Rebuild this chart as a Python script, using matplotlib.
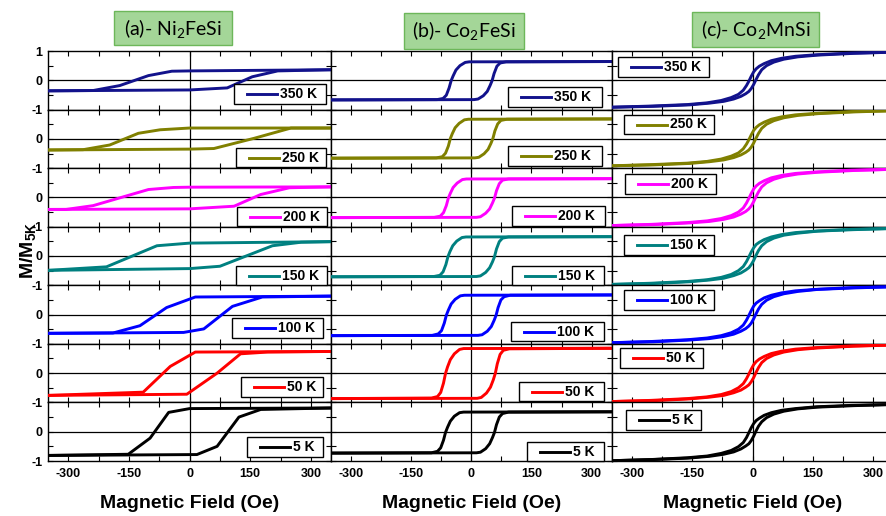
import matplotlib
matplotlib.use('Agg')
import matplotlib.pyplot as plt
from matplotlib.patches import Rectangle
from matplotlib.lines import Line2D

plt.rcParams['font.family'] = ['Liberation Sans', 'DejaVu Sans']
plt.rcParams['mathtext.default'] = 'regular'
plt.rcParams['axes.unicode_minus'] = False

# ---------------- data ----------------
temps = ['350 K', '250 K', '200 K', '150 K', '100 K', '50 K', '5 K']
temp_colors = ['#12128c', '#808000', '#ff00ff', '#008080', '#0000ff', '#ff0000', '#000000']
panel_titles = ['(a)- Ni$_2$FeSi', '(b)- Co$_2$FeSi', '(c)- Co$_2$MnSi']
x_tick_values = [-300, -150, 0, 150, 300]
x_tick_labels = ['-300', '-150', '0', '150', '300']

# (a) Ni2FeSi : field-decreasing and field-increasing branches
ni_desc_H = [
    [350, 0, -44, -102, -173, -239, -350],
    [350, 0, -73, -127, -198, -264, -350],
    [350, 0, -40, -102, -239, -306, -350],
    [350, 0, -81, -206, -350],
    [350, 14, -57, -123, -190, -350],
    [350, 14, -48, -115, -350],
    [350, 0, -52, -98, -152, -350],
]
ni_desc_M = [
    [0.36, 0.32, 0.31, 0.16, -0.18, -0.35, -0.36],
    [0.37, 0.37, 0.31, 0.19, -0.21, -0.37, -0.38],
    [0.36, 0.35, 0.34, 0.27, -0.28, -0.41, -0.41],
    [0.49, 0.44, 0.35, -0.37, -0.49],
    [0.63, 0.60, 0.24, -0.38, -0.63, -0.64],
    [0.74, 0.72, 0.23, -0.65, -0.76],
    [0.81, 0.79, 0.66, -0.22, -0.77, -0.81],
]
ni_asc_H = [
    [-350, 0, 93, 155, 218, 350],
    [-350, 0, 60, 160, 251, 350],
    [-350, 0, 110, 176, 247, 350],
    [-350, 0, 75, 205, 276, 350],
    [-350, -15, 35, 106, 180, 350],
    [-350, -7, 68, 126, 193, 350],
    [-350, 18, 68, 122, 176, 350],
]
ni_asc_M = [
    [-0.36, -0.33, -0.26, 0.12, 0.32, 0.36],
    [-0.38, -0.35, -0.33, 0.02, 0.37, 0.37],
    [-0.41, -0.39, -0.30, 0.10, 0.33, 0.36],
    [-0.49, -0.43, -0.35, 0.35, 0.47, 0.49],
    [-0.64, -0.61, -0.49, 0.28, 0.60, 0.63],
    [-0.76, -0.72, 0.00, 0.66, 0.72, 0.74],
    [-0.81, -0.78, -0.50, 0.50, 0.76, 0.81],
]

# (b) Co2FeSi
cofe_desc_H = [
    [350, -5, -15, -28, -38, -45, -50, -55, -62, -70, -85, -350],
    [350, -7, -17, -30, -40, -47, -52, -57, -64, -72, -87, -350],
    [350, -12, -22, -35, -45, -52, -57, -62, -69, -77, -92, -350],
    [350, -13, -23, -36, -46, -53, -58, -63, -70, -78, -93, -350],
    [350, -17, -27, -40, -50, -57, -62, -67, -74, -82, -97, -350],
    [350, -19, -29, -42, -52, -59, -64, -69, -76, -84, -99, -350],
    [350, -19, -29, -42, -52, -59, -64, -69, -76, -84, -99, -350],
]
cofe_desc_M = [
    [0.64, 0.63, 0.61, 0.50, 0.35, 0.15, -0.015, -0.26, -0.51, -0.62, -0.66, -0.67],
    [0.68, 0.67, 0.65, 0.53, 0.38, 0.18, 0.01, -0.25, -0.49, -0.61, -0.65, -0.66],
    [0.64, 0.63, 0.61, 0.49, 0.34, 0.14, -0.025, -0.28, -0.52, -0.64, -0.68, -0.69],
    [0.66, 0.65, 0.63, 0.51, 0.35, 0.15, -0.025, -0.29, -0.54, -0.66, -0.70, -0.71],
    [0.67, 0.66, 0.64, 0.52, 0.36, 0.15, -0.025, -0.29, -0.55, -0.66, -0.71, -0.72],
    [0.85, 0.84, 0.81, 0.66, 0.46, 0.21, -0.01, -0.34, -0.66, -0.80, -0.85, -0.87],
    [0.68, 0.67, 0.65, 0.53, 0.36, 0.15, -0.025, -0.29, -0.55, -0.67, -0.72, -0.73],
]
cofe_asc_H = [
    [-350, 7, 17, 30, 40, 47, 52, 57, 64, 72, 87, 350],
    [-350, 9, 19, 32, 42, 49, 54, 59, 66, 74, 89, 350],
    [-350, 13, 23, 36, 46, 53, 58, 63, 70, 78, 93, 350],
    [-350, 13, 23, 36, 46, 53, 58, 63, 70, 78, 93, 350],
    [-350, 17, 27, 40, 50, 57, 62, 67, 74, 82, 97, 350],
    [-350, 15, 25, 38, 48, 55, 60, 65, 72, 80, 95, 350],
    [-350, 13, 23, 36, 46, 53, 58, 63, 70, 78, 93, 350],
]
cofe_asc_M = [
    [-0.67, -0.66, -0.64, -0.53, -0.38, -0.18, -0.015, 0.23, 0.48, 0.59, 0.63, 0.64],
    [-0.66, -0.65, -0.63, -0.51, -0.36, -0.16, 0.01, 0.27, 0.51, 0.63, 0.67, 0.68],
    [-0.69, -0.68, -0.66, -0.54, -0.39, -0.19, -0.025, 0.23, 0.47, 0.59, 0.63, 0.64],
    [-0.71, -0.70, -0.68, -0.56, -0.40, -0.20, -0.025, 0.24, 0.49, 0.61, 0.65, 0.66],
    [-0.72, -0.71, -0.69, -0.57, -0.41, -0.20, -0.025, 0.24, 0.50, 0.61, 0.66, 0.67],
    [-0.87, -0.86, -0.83, -0.68, -0.48, -0.23, -0.01, 0.32, 0.64, 0.78, 0.83, 0.85],
    [-0.73, -0.72, -0.70, -0.58, -0.41, -0.20, -0.025, 0.24, 0.50, 0.62, 0.67, 0.68],
]

# (c) Co2MnSi : field grids of the two branches
comn_desc_H = [-350, -253, -163, -113, -78, -53, -35, -23, -15, -9, -3,
               3, 9, 17, 29, 47, 72, 107, 157, 247, 350]
comn_asc_H = [-350, -247, -157, -107, -72, -47, -29, -17, -9, -3, 3,
              9, 15, 23, 35, 53, 78, 113, 163, 253, 350]
comn_desc_M = [
    [-.92, -.88, -.83, -.77, -.69, -.59, -.48, -.34, -.18, -.03, .14, .29, .39, .48, .57, .67, .75, .82, .87, .93, .96],
    [-.92, -.88, -.83, -.77, -.69, -.59, -.48, -.34, -.18, -.03, .14, .29, .39, .48, .57, .67, .75, .82, .87, .93, .96],
    [-.96, -.92, -.86, -.80, -.72, -.62, -.50, -.36, -.19, -.03, .14, .29, .39, .48, .57, .67, .75, .82, .87, .93, .96],
    [-.97, -.93, -.87, -.81, -.73, -.63, -.50, -.36, -.19, -.03, .14, .28, .39, .47, .56, .65, .73, .80, .85, .91, .94],
    [-.96, -.92, -.86, -.80, -.72, -.62, -.50, -.36, -.19, -.03, .14, .29, .39, .47, .57, .66, .74, .81, .86, .92, .95],
    [-.97, -.93, -.87, -.81, -.73, -.63, -.50, -.36, -.19, -.03, .14, .29, .39, .48, .57, .67, .75, .82, .87, .93, .96],
    [-.99, -.95, -.89, -.83, -.74, -.64, -.51, -.37, -.20, -.03, .14, .28, .38, .46, .56, .65, .73, .79, .85, .90, .93],
]
comn_asc_M = [
    [-.92, -.89, -.84, -.78, -.72, -.64, -.55, -.46, -.38, -.28, -.14, .03, .19, .36, .50, .62, .72, .80, .86, .92, .96],
    [-.92, -.89, -.84, -.78, -.72, -.64, -.55, -.46, -.38, -.28, -.14, .03, .19, .36, .50, .62, .72, .80, .86, .92, .96],
    [-.96, -.93, -.87, -.82, -.75, -.67, -.57, -.48, -.39, -.29, -.14, .03, .19, .36, .50, .62, .72, .80, .86, .92, .96],
    [-.97, -.94, -.88, -.82, -.76, -.67, -.58, -.48, -.40, -.29, -.15, .03, .19, .35, .49, .61, .71, .78, .85, .90, .94],
    [-.96, -.93, -.87, -.82, -.75, -.67, -.57, -.48, -.39, -.29, -.14, .03, .19, .35, .49, .61, .71, .79, .86, .91, .95],
    [-.97, -.94, -.88, -.82, -.76, -.67, -.58, -.48, -.40, -.29, -.15, .03, .19, .36, .50, .62, .72, .80, .86, .92, .96],
    [-.99, -.95, -.90, -.84, -.77, -.69, -.59, -.49, -.41, -.30, -.15, .03, .19, .34, .48, .60, .70, .78, .84, .89, .93],
]

# ---------------- layout (pixels) ----------------
W, H = 887, 516
col_left = [48.3, 330.7, 612.0]
col_width = [282.7, 281.0, 281.0]
rows_top, rows_bottom = 51.0, 461.0
row_h = (rows_bottom - rows_top) / 7

# legend boxes (left, top, right, bottom) in pixels
legend_boxes = [
    [(234, 84, 326, 104), (236, 148, 326, 167), (237, 207, 327, 226), (236, 266, 327, 285),
     (232, 318, 323, 338), (241, 377, 323, 397), (247, 437, 323, 457)],
    [(508, 87, 602, 107), (508, 146, 602, 166), (512, 206, 605, 226), (512, 266, 604, 285),
     (511, 322, 604, 341), (519, 382, 604, 401), (527, 442, 604, 461)],
    [(618, 57, 709, 77), (624, 115, 714, 134), (625, 174, 716, 194), (624, 235, 714, 255),
     (624, 290, 714, 310), (620, 348, 703, 368), (626, 410, 701, 430)],
]
title_boxes = [(114, 11, 232, 45), (404, 13, 524, 49), (692, 12, 819, 47)]

fig = plt.figure(figsize=(W / 100, H / 100), dpi=100)


def fx(px):
    return px / W


def fy(py):
    return 1 - py / H


def branches(ci, ri):
    if ci == 0:
        return [(ni_desc_H[ri], ni_desc_M[ri]), (ni_asc_H[ri], ni_asc_M[ri])]
    if ci == 1:
        return [(cofe_desc_H[ri], cofe_desc_M[ri]), (cofe_asc_H[ri], cofe_asc_M[ri])]
    return [(comn_desc_H, comn_desc_M[ri]), (comn_asc_H, comn_asc_M[ri])]


for ci in range(3):
    for ri in range(7):
        top_px = rows_top + ri * row_h
        ax = fig.add_axes([fx(col_left[ci]), fy(top_px + row_h), col_width[ci] / W, row_h / H])
        ax.set_xlim(-350, 350)
        ax.set_ylim(-1, 1)
        ax.axhline(0, color='black', lw=0.9, zorder=1)
        ax.axvline(0, color='black', lw=0.9, zorder=1)
        for hx, my in branches(ci, ri):
            ax.plot(hx, my, color=temp_colors[ri], lw=2.1, zorder=3,
                    solid_joinstyle='round')
        ax.set_xticks(x_tick_values)
        ax.set_xticks([-225, -75, 75, 225], minor=True)
        ax.set_yticks([-1, 0, 1])
        ax.set_yticks([-0.5, 0.5], minor=True)
        ax.tick_params(which='both', direction='in', top=True, right=True,
                       length=3.5, width=0.8, labelsize=9)
        if ri == 6:
            ax.set_xticklabels(x_tick_labels, fontweight='bold')
            ax.tick_params(axis='x', pad=5)
        else:
            ax.set_xticklabels([])
        if ci == 0:
            ax.set_yticklabels(['-1', '0', '1' if ri == 0 else ''], fontweight='bold')
            ax.tick_params(axis='y', pad=4)
        else:
            ax.set_yticklabels([])
        for s in ax.spines.values():
            s.set_linewidth(1.0)

        # legend box
        l, t, r, b = legend_boxes[ci][ri]
        fig.add_artist(Rectangle((fx(l), fy(b)), (r - l) / W, (b - t) / H,
                                 transform=fig.transFigure, facecolor='white',
                                 edgecolor='black', lw=1.0, zorder=5))
        cy = (t + b) / 2
        fig.add_artist(Line2D([fx(l + 13), fx(l + 43)], [fy(cy), fy(cy)],
                              transform=fig.transFigure, color=temp_colors[ri],
                              lw=2.1, zorder=6))
        fig.text(fx(l + 46), fy(cy), temps[ri], ha='left', va='center',
                 fontsize=10, fontweight='bold', zorder=7)

    # title box
    l, t, r, b = title_boxes[ci]
    fig.add_artist(Rectangle((fx(l), fy(b)), (r - l) / W, (b - t) / H,
                             transform=fig.transFigure, facecolor='#a4d698',
                             edgecolor='#6db75a', lw=1.0, zorder=5))
    fig.text(fx((l + r) / 2), fy((t + b) / 2), panel_titles[ci], ha='center',
             va='center', fontsize=14, family=['Lato', 'DejaVu Sans'], zorder=7)

    # x label
    fig.text(fx(col_left[ci] + 350 * col_width[ci] / 700), fy(504), 'Magnetic Field (Oe)',
             ha='center', va='center', fontsize=14, fontweight='bold')

fig.text(fx(28), fy(250), 'M/M$_{5K}$', rotation=90, ha='center', va='center',
         fontsize=14, fontweight='bold')

fig.savefig('out.png', dpi=100)
